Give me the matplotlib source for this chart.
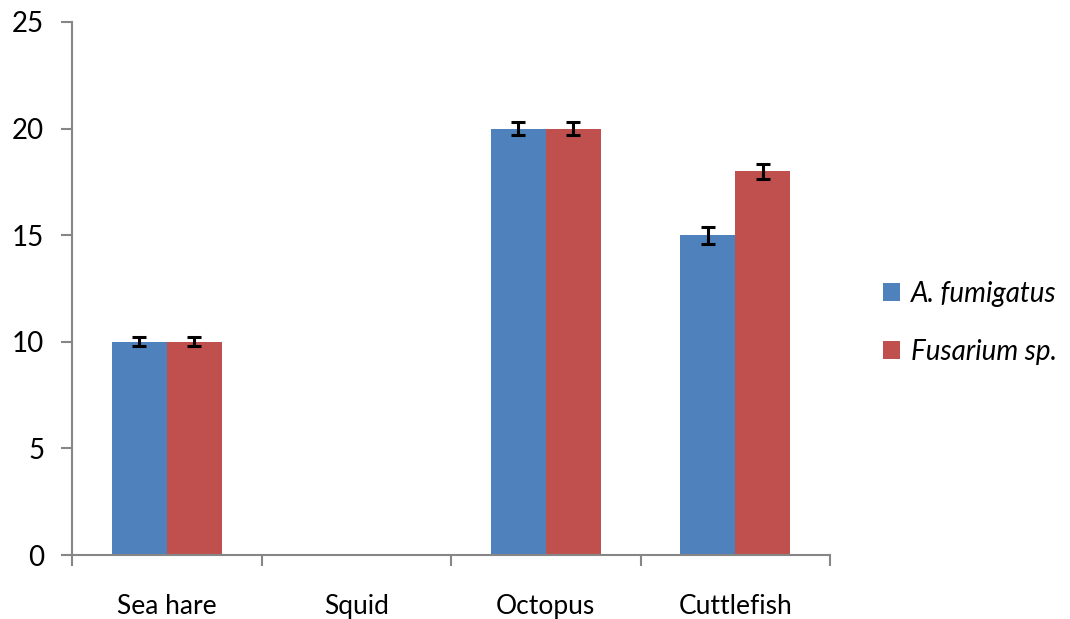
import numpy as np
import matplotlib
matplotlib.use('Agg')
import matplotlib.pyplot as plt

plt.rcParams['font.family'] = ['Lato', 'DejaVu Sans']

CATEGORIES = ['Sea hare', 'Squid', 'Octopus', 'Cuttlefish']
FUMIGATUS = [10, 0, 20, 15]
FUMIGATUS_ERR = [0.22, 0, 0.3, 0.4]
FUSARIUM = [10, 0, 20, 18]
FUSARIUM_ERR = [0.22, 0, 0.3, 0.35]
SERIES_NAMES = ['A. fumigatus', 'Fusarium sp.']

BLUE = '#4f81bd'
RED = '#c0504d'
AXIS_GRAY = '#868686'

fig = plt.figure(figsize=(10.7, 6.19), dpi=100)
ax = fig.add_axes([72 / 1070, 64 / 619, 758 / 1070, 533 / 619])

x = np.arange(len(CATEGORIES))
width = 0.29
err_kw = dict(ecolor='black', elinewidth=2.2, capsize=5, capthick=2.2)

fum_err = [e if e > 0 else np.nan for e in FUMIGATUS_ERR]
fus_err = [e if e > 0 else np.nan for e in FUSARIUM_ERR]
ax.bar(x - width / 2, FUMIGATUS, width, color=BLUE, yerr=fum_err,
       error_kw=err_kw, label=SERIES_NAMES[0])
ax.bar(x + width / 2, FUSARIUM, width, color=RED, yerr=fus_err,
       error_kw=err_kw, label=SERIES_NAMES[1])

ax.set_xlim(-0.5, len(CATEGORIES) - 0.5)
ax.set_ylim(0, 25)
ax.set_yticks(range(0, 26, 5))
ax.set_xticks(x)
ax.set_xticklabels(CATEGORIES)
ax.set_xticks(np.arange(-0.5, len(CATEGORIES)), minor=True)

for side in ['top', 'right']:
    ax.spines[side].set_visible(False)
for side in ['left', 'bottom']:
    ax.spines[side].set_color(AXIS_GRAY)
    ax.spines[side].set_linewidth(1.5)

ax.tick_params(axis='y', direction='out', length=8, width=1.5,
               color=AXIS_GRAY, labelsize=20, pad=12)
ax.tick_params(axis='x', which='major', length=0, labelsize=19, pad=28)
ax.tick_params(axis='x', which='minor', direction='out', length=8,
               width=1.5, color=AXIS_GRAY)

leg = fig.legend(loc='center left', bbox_to_anchor=(858 / 1070, 1 - 323 / 619),
                 frameon=False, prop={'style': 'italic', 'size': 20},
                 handlelength=0.6, handleheight=0.6, handletextpad=0.4,
                 labelspacing=1.15)

fig.savefig('out.png', dpi=100)
